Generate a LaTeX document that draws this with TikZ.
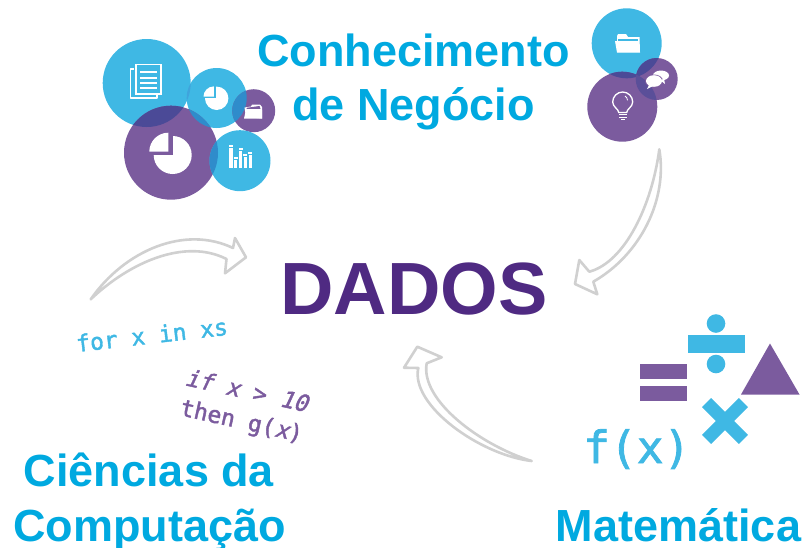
\documentclass[tikz,border=0pt]{standalone}
\usepackage{fontspec}
\setmainfont{Liberation Sans}
\newfontfamily\codefont[FakeBold=1.8]{DejaVu Sans Mono}
\newfontfamily\codeslant[FakeBold=1.8,FakeSlant=0.22]{DejaVu Sans Mono}
\definecolor{bluec}{HTML}{3FB8E4}
\definecolor{purpc}{HTML}{7B5B9E}
\definecolor{headblue}{HTML}{00A9E0}
\definecolor{dadosc}{HTML}{4F2A82}
\definecolor{arrowc}{HTML}{D0D0D0}
\definecolor{olapa}{HTML}{4B4A97}
\definecolor{olapb}{HTML}{2F8CCB}
\definecolor{olapc}{HTML}{3FA4DC}
\tikzset{
  head/.style={font=\fontsize{45}{50}\selectfont\bfseries,text=headblue,inner sep=0pt,anchor=base},
  code/.style={inner sep=0pt,anchor=base west},
  icon/.style={draw=white,line width=1.5pt,fill=none,line join=round},
  arrowline/.style={draw=arrowc,line width=2.6pt,fill=white,line join=round,line cap=round}
}
\begin{document}
\begin{tikzpicture}[x=1pt,y=-1pt]
\useasboundingbox (0,0) rectangle (804,547);
% left cluster
\fill[bluec] (146.7,83) circle (44);
\fill[bluec] (216.7,98) circle (30);
\fill[purpc] (253.7,110.7) circle (21.5);
\fill[purpc] (171,152.7) circle (47);
\fill[bluec] (240,160.7) circle (30.5);
\begin{scope}\clip (146.7,83) circle (44); \fill[olapa] (171,152.7) circle (47); \end{scope}
\begin{scope}\clip (216.7,98) circle (30); \fill[olapb] (171,152.7) circle (47); \fill[olapb] (253.7,110.7) circle (21.5); \fill[olapc] (146.7,83) circle (44); \end{scope}
\begin{scope}\clip (240,160.7) circle (30.5); \fill[olapb] (171,152.7) circle (47); \end{scope}
% document icon
\draw[icon] (134,69) -- (130.5,69) -- (130.5,98) -- (157,98) -- (157,95);
\fill[white] (135,63.5) rectangle (161.5,95);
\fill[bluec] (136.8,65.3) rectangle (159.7,93.2);
\foreach \yy in {71,76.5,82,87}{\fill[white] (140,\yy) rectangle (157,\yy+2.3);}
% small pie (blue)
\fill[white] (216.7,98.3) circle (11.7);
\fill[bluec] (203,85) rectangle (216.2,97.8);
\fill[white] (203.5,96.7) arc[start angle=180,end angle=270,radius=10.3] -- (213.8,96.7) -- cycle;
% folder on purple
\fill[white] (244.5,107.5) -- (246,117) -- (262,118.5) -- (262,107) -- (260,104.5) -- (252,104.5) -- (251,106.5) -- cycle;
\fill[purpc] (246.5,108.8) -- (246.5,107.8) -- (259.5,106) -- (260.5,108.8) -- cycle;
\fill[white] (244,118.5) -- (246,109.8) -- (262,109.8) -- (262,118.5) -- cycle;
% big pie (purple)
\fill[white] (172.7,155) circle (19);
\fill[purpc] (148,131) rectangle (172.7,155);
\fill[white] (149.3,151.7) arc[start angle=180,end angle=270,radius=19] -- (168.3,151.7) -- cycle;
% bars
\foreach \xx/\yy in {231/145, 235.7/156.7, 240.7/148.3, 245.3/154, 250.3/151.7}{
  \fill[white] (\xx-1.6,\yy+2.8) rectangle (\xx+1.6,168.3);
  \fill[white] (\xx-1.9,\yy) rectangle (\xx+1.9,\yy+1.8);
}
% right cluster
\fill[bluec] (626.7,43.3) circle (35);
\fill[purpc] (622.3,106.7) circle (35);
\fill[purpc] (656.7,79) circle (21);
\begin{scope}\clip (626.7,43.3) circle (35); \fill[olapa] (622.3,106.7) circle (35); \fill[olapa] (656.7,79) circle (21); \end{scope}
\begin{scope}\clip (622.3,106.7) circle (35); \fill[olapa!70!purpc] (656.7,79) circle (21); \end{scope}
% folder
\fill[white] (617,36) -- (618,34) -- (626,34) -- (628,37) -- (639.5,37) -- (640,52) -- (617,52) -- cycle;
\fill[bluec] (618,40.5) -- (638,40.5) -- (638,38.7) -- (618,38.7) -- cycle;
\fill[white] (615,41) -- (639,41) -- (640,52.5) -- (617,52.5) -- cycle;
% speech bubbles
\fill[white] (661,75.5) ellipse (8 and 5);
\fill[purpc] (654,81) ellipse (9 and 6.5);
\fill[white] (654,81) ellipse (8 and 5.8);
\fill[white] (649,85) -- (647,89) -- (653,86) -- cycle;
\fill[white] (664,79) -- (665,84) -- (660,80) -- cycle;
% bulb
\draw[white,line width=1.3pt] (618.7,112.5) .. controls (618.7,109) and (612.7,107) .. (612.7,102) arc[start angle=180,end angle=360,radius=10] .. controls (632.7,107) and (626.7,109) .. (626.7,112.5) -- cycle;
\fill[white] (618.7,113.5) rectangle (626.7,115);
\fill[white] (619,116.5) rectangle (626.5,118);
\fill[white] (620.5,119) rectangle (625,120);
\draw[white,line width=.8pt] (625,96) arc[start angle=-60,end angle=0,radius=5];
% titles
\node[head] (t1) at (413.5,66) {Conhecimento};
\node[head] (t2) at (413.5,120) {de Negócio};
\node[font=\fontsize{74}{80}\selectfont\bfseries,text=dadosc,inner sep=0pt,anchor=base] (dados) at (414,314) {DADOS};
\node[head] (t3) at (149,486) {Ciências da};
\node[head] (t4) at (149.5,541) {Computação};
\node[head] (t5) at (678.5,541) {Matemática};
% code
\node[code,text=bluec,rotate=6.5,font=\codefont\fontsize{23}{24}\selectfont] (c1) at (77,352) {for x in xs};
\node[code,text=purpc,rotate=-12.5,font=\codefont\fontsize{23}{24}\selectfont] (c2) at (184,385) {{\codeslant if x} > {\codeslant 10}};
\node[code,text=purpc,rotate=-12.5,font=\codefont\fontsize{23}{24}\selectfont] (c3) at (179,415) {then g({\codeslant x})};
\node[code,text=bluec,font=\codefont\fontsize{44.5}{46}\selectfont] (c4) at (583,463) {f(x)};
% maths symbols
\fill[bluec] (687.5,334.5) rectangle (745,352.5);
\fill[bluec] (716,323.5) circle (9.3);
\fill[bluec] (716,364) circle (9.3);
\fill[purpc] (640,364) rectangle (686.5,379);
\fill[purpc] (640,386) rectangle (686.5,401);
\fill[purpc] (741,394.5) -- (770,343.5) -- (799.5,394.5) -- cycle;
\fill[bluec,rotate around={45:(725,421)}] (699,414.5) rectangle (751,427.5);
\fill[bluec,rotate around={45:(725,421)}] (718.5,395) rectangle (731.5,447);
% arrows
\draw[arrowline] (659.3,149.3)
  .. controls (668,200) and (640,255) .. (593.3,281.7)
  -- (597.3,294.3) -- (575,284) -- (579.3,260) -- (589.3,271.7)
  .. controls (625,262) and (652,205) .. (659.3,149.3) -- cycle;
\draw[arrowline] (90.7,299.3)
  .. controls (125,250) and (185,225) .. (233,248)
  -- (235,238) -- (246,257.3) -- (225,273.3) -- (226.5,259)
  .. controls (185,238) and (130,262) .. (90.7,299.3) -- cycle;
\draw[arrowline] (531.7,461)
  .. controls (480,455) and (410,405) .. (418.3,368)
  -- (404,367.7) -- (417.3,346.7) -- (441.7,357.3) -- (426.7,363.3)
  .. controls (420,400) and (480,445) .. (531.7,461) -- cycle;
\end{tikzpicture}
\end{document}
